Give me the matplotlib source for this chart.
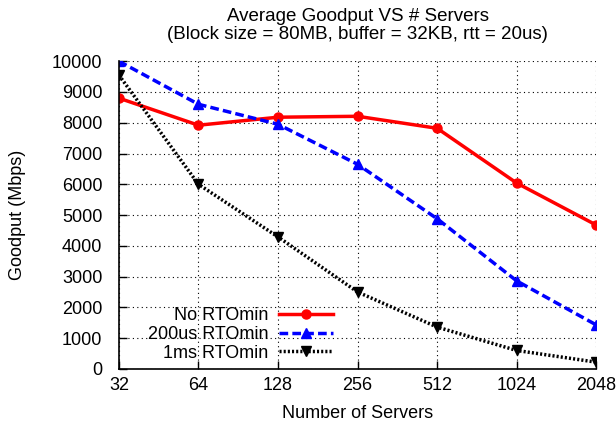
import matplotlib
matplotlib.use('Agg')
import matplotlib.pyplot as plt

plt.rcParams['font.family'] = ['Liberation Sans', 'DejaVu Sans']
plt.rcParams['font.size'] = 13

servers       = [32, 64, 128, 256, 512, 1024, 2048]
no_rtomin     = [8800, 7920, 8180, 8210, 7820, 6040, 4675]
rtomin_200us  = [10000, 8600, 7950, 6650, 4880, 2860, 1430]
rtomin_1ms    = [9550, 6000, 4290, 2500, 1360, 600, 220]
y_ticks       = list(range(0, 10001, 1000))

fig = plt.figure(figsize=(6.16, 4.28), dpi=100)
ax = fig.add_axes([0.193, 0.138, 0.775, 0.719])

ax.plot(servers, no_rtomin, color='red', lw=2.5, marker='o', markersize=6.5, label='No RTOmin')
ax.plot(servers, rtomin_200us, color='blue', lw=2.5, ls=(0, (2.5, 1.2)), marker='^', markersize=6.5, label='200us RTOmin')
ax.plot(servers, rtomin_1ms, color='black', lw=2.5, ls=(0, (0.6, 0.6)), marker='v', markersize=6.5, label='1ms RTOmin')

ax.set_xscale('log', base=2)
ax.set_xlim(32, 2048)
ax.set_ylim(0, 10000)
ax.set_xticks(servers)
ax.set_xticklabels([str(s) for s in servers])
ax.set_yticks(y_ticks)
ax.minorticks_off()
ax.tick_params(direction='in', length=6, width=1)
ax.tick_params(axis='y', pad=12)
ax.tick_params(axis='x', pad=6)

ax.grid(True, ls=(0, (1, 3)), color='black', lw=0.8)
for s in ['top', 'right']:
    ax.spines[s].set_visible(False)
for s in ['left', 'bottom']:
    ax.spines[s].set_linewidth(1.2)

ax.set_xlabel('Number of Servers', labelpad=8)
ax.set_ylabel('Goodput (Mbps)')
ax.yaxis.set_label_coords(-0.195, 0.5)
ax.set_title('Average Goodput VS # Servers\n(Block size = 80MB, buffer = 32KB, rtt = 20us)',
             fontsize=13.5, linespacing=1.05, pad=16)

ax.legend(loc='lower left', bbox_to_anchor=(0.045, 0.0), markerfirst=False, frameon=False,
          handlelength=3.0, handletextpad=0.6, labelspacing=0.1, borderaxespad=0.0)

fig.savefig('out.png', dpi=100)
